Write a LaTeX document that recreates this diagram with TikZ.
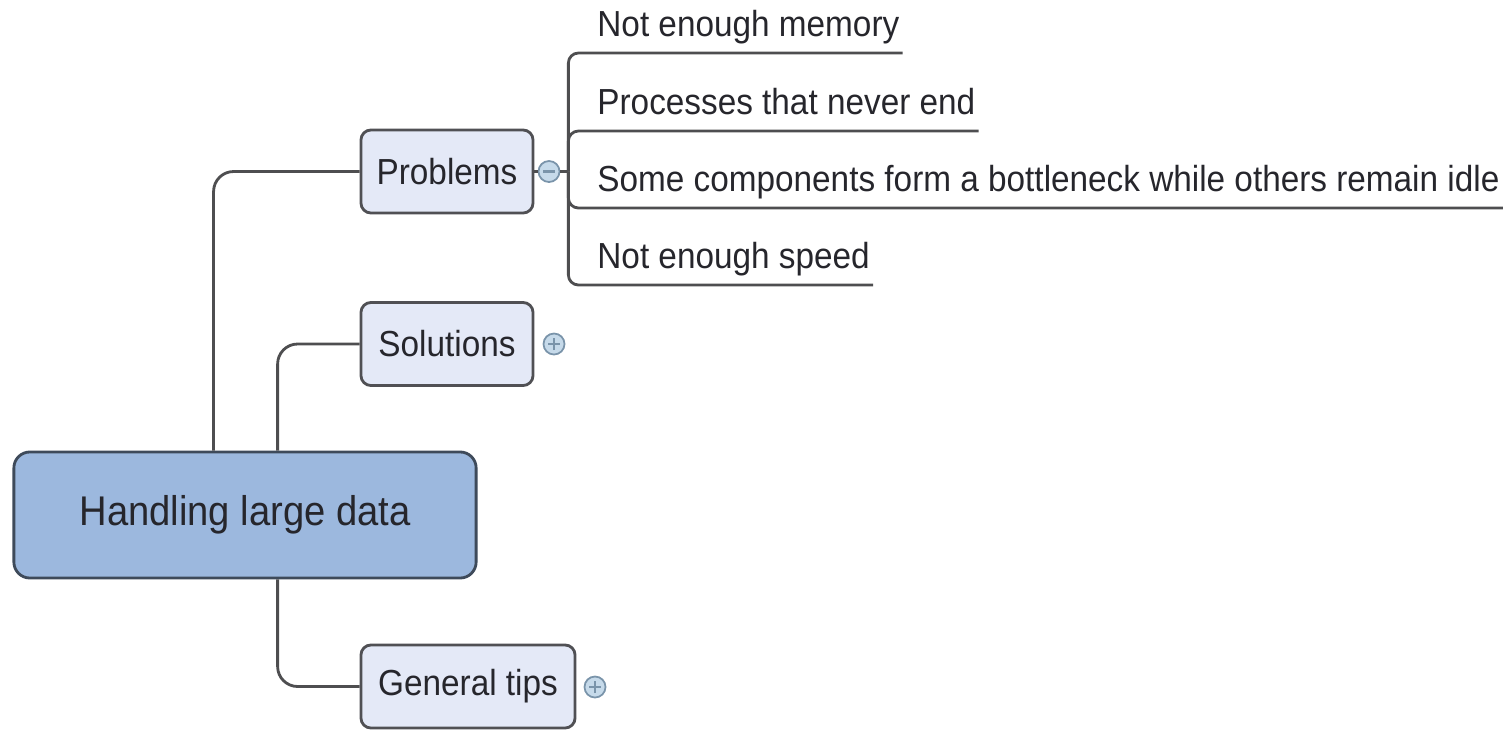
\documentclass[tikz,border=0pt]{standalone}
\usepackage{fontspec}
\setmainfont{Liberation Sans}[FakeStretch=0.92]
\usetikzlibrary{calc}

\definecolor{hubfill}{RGB}{156,184,222}
\definecolor{hubrim}{RGB}{62,74,90}
\definecolor{boxfill}{RGB}{228,233,247}
\definecolor{boxrim}{RGB}{80,80,84}
\definecolor{linkgray}{RGB}{78,78,80}
\definecolor{inkcol}{RGB}{38,38,44}
\definecolor{togglefill}{RGB}{198,218,234}
\definecolor{togglerim}{RGB}{122,148,170}

\tikzset{
  hubbox/.style={draw=hubrim, fill=hubfill, rounded corners=0.16cm,
    minimum width=4.62cm, minimum height=1.26cm, text=inkcol,
    font=\fontsize{11.8}{14}\selectfont},
  topicbox/.style={draw=boxrim, fill=boxfill, rounded corners=0.1cm,
    minimum height=0.83cm, inner xsep=0.15cm, text=inkcol,
    font=\fontsize{10.3}{12}\selectfont},
  leaf/.style={anchor=south west, text depth=0pt, inner ysep=0.15cm,
    inner xsep=0.02cm, text=inkcol, font=\fontsize{10.3}{12}\selectfont},
  link/.style={draw=linkgray, rounded corners=0.2cm},
  toggle/.style={circle, draw=togglerim, fill=togglefill, line width=0.5pt,
    minimum size=0.21cm, inner sep=0pt},
  toggleminus/.style={toggle, path picture={
    \draw[togglerim, line width=0.6pt]
      ([xshift=-0.06cm]path picture bounding box.center) --
      ([xshift=0.06cm]path picture bounding box.center);}},
  toggleplus/.style={toggle, path picture={
    \draw[togglerim, line width=0.6pt]
      ([xshift=-0.06cm]path picture bounding box.center) --
      ([xshift=0.06cm]path picture bounding box.center)
      ([yshift=-0.06cm]path picture bounding box.center) --
      ([yshift=0.06cm]path picture bounding box.center);}}
}

\begin{document}
\begin{tikzpicture}[x=0.01cm, y=-0.01cm, line width=0.8pt]
    \useasboundingbox (0,0) rectangle (1512,730);

    % central topic and its three branches
    \node[hubbox] (hub) at (245,515) {Handling large data};
    \node[topicbox, minimum width=1.72cm] (prob) at (447,171.5) {Problems};
    \node[topicbox, minimum width=1.72cm] (sol) at (447,344) {Solutions};
    \node[topicbox, minimum width=2.14cm] (tips) at (468,686.5) {General tips};

    \draw[link] ([xshift=2.01cm]hub.north west) |- (prob.west);
    \draw[link] ([xshift=2.65cm]hub.north west) |- (sol.west);
    \draw[link] ([xshift=2.65cm]hub.south west) |- (tips.west);

    % expand / collapse buttons
    \node[toggleminus] (pm) at (549,171.5) {};
    \node[toggleplus] (sp) at (554,344) {};
    \node[toggleplus] (tp) at (595,687) {};
    \draw[linkgray] (prob.east) -- (pm.west);

    % the problems, each one underlined
    \node[leaf] (mem) at (594,53) {Not enough memory};
    \node[leaf] (proc) at (594,131) {Processes that never end};
    \node[leaf] (neck) at (594,208) {Some components form a bottleneck while others remain idle};
    \node[leaf] (speed) at (594,285) {Not enough speed};

    \coordinate (fork) at ([xshift=0.08cm]pm.east);
    \draw[linkgray] (pm.east) -- (fork);
    \foreach \leafname in {mem,proc,neck,speed}
        \draw[link, rounded corners=0.1cm] (fork) |- (\leafname.south west) -- (\leafname.south east);
\end{tikzpicture}
\end{document}
